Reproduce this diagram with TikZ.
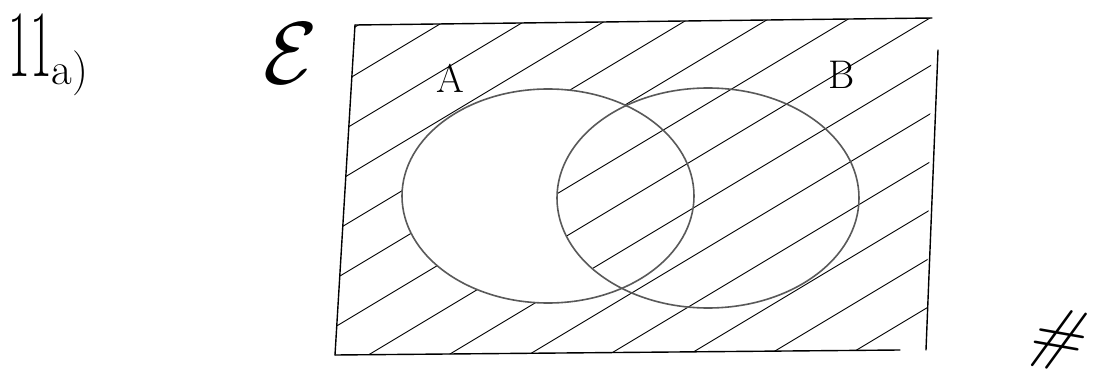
\RequirePackage{fix-cm}
\documentclass[tikz,border=0pt]{standalone}
\usepackage{amsmath}
\tikzset{
  frame/.style={black, line width=1.4pt, line cap=round},
  setline/.style={black!65, line width=1.6pt},
  hatch/.style={black, line width=0.9pt},
  hand/.style={inner sep=0pt, black}
}
\begin{document}
\begin{tikzpicture}[x=1pt,y=-1pt]
\useasboundingbox[fill=white] (0,0) rectangle (1096,377);
% frame corners
\coordinate (tl) at (355,25);
\coordinate (tr) at (932,18);
\coordinate (rt) at (938,50);
\coordinate (rb) at (926,350);
\coordinate (br) at (900,350);
\coordinate (bl) at (335,355);
% hatch over universal set
\begin{scope}
  \clip (tl) -- (tr) -- (rb) -- (bl) -- cycle;
  \foreach \c in {240,288,...,930} {\draw[hatch] (300,\c-180) -- (1000,\c-600);}
\end{scope}
% blank A
\fill[white] (548,196) ellipse [x radius=146pt, y radius=107pt];
% hatch inside A and B
\begin{scope}
  \clip (548,196) ellipse [x radius=146pt, y radius=107pt];
  \clip (708,198) ellipse [x radius=151pt, y radius=110pt];
  \foreach \c in {240,288,...,930} {\draw[hatch] (300,\c-180) -- (1000,\c-600);}
\end{scope}
% sets
\draw[setline] (548,196) ellipse [x radius=146pt, y radius=107pt];
\draw[setline] (708,198) ellipse [x radius=151pt, y radius=110pt];
% frame
\draw[frame] (tl) -- (tr);
\draw[frame] (rt) -- (rb);
\draw[frame] (bl) -- (br);
\draw[frame] (tl) -- (bl);
% labels
\node[hand] (lA) at (450,78) {\fontsize{40}{40}\selectfont A};
\node[hand] (lB) at (842,75) {\fontsize{40}{40}\selectfont B};
\node[hand, anchor=base] (lE) at (291,84) {\fontsize{88}{88}\selectfont$\mathcal{E}$};
\node[hand, anchor=base west] (num) at (8,77) {\scalebox{0.5}[1]{\fontsize{95}{95}\selectfont 11}\fontsize{45}{45}\selectfont\raisebox{-8pt}{a)}};
\node[hand, anchor=base, rotate=-10] (end) at (1052,356) {\fontsize{70}{70}\selectfont\itshape\#};
\end{tikzpicture}
\end{document}
